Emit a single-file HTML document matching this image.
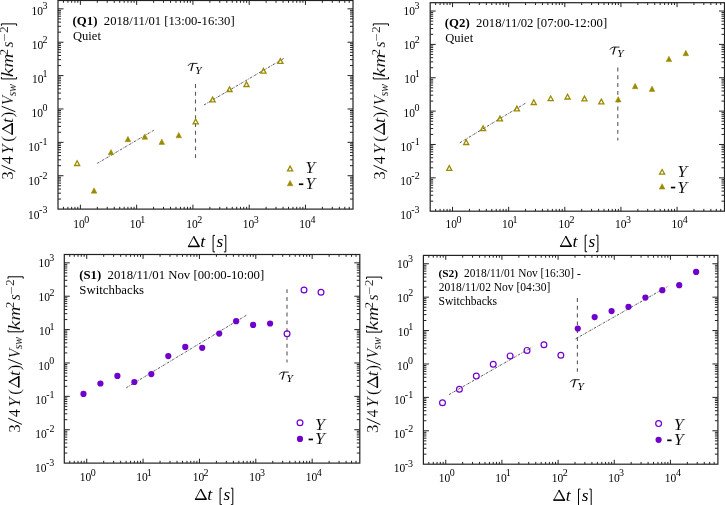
<!DOCTYPE html><html><head><meta charset="utf-8"><style>html,body{margin:0;padding:0;background:#fff;overflow:hidden}svg{display:block;filter:blur(0.3px)}</style></head><body>
<svg width="725" height="505" viewBox="0 0 725 505">
<rect width="725" height="505" fill="#fff"/>
<path d="M63.45 209.10v-2.3M63.45 0.50v2.3M67.91 209.10v-2.3M67.91 0.50v2.3M71.67 209.10v-2.3M71.67 0.50v2.3M74.94 209.10v-2.3M74.94 0.50v2.3M77.82 209.10v-2.3M77.82 0.50v2.3M80.39 209.10v-4.4M80.39 0.50v4.4M97.33 209.10v-2.3M97.33 0.50v2.3M107.24 209.10v-2.3M107.24 0.50v2.3M114.27 209.10v-2.3M114.27 0.50v2.3M119.72 209.10v-2.3M119.72 0.50v2.3M124.17 209.10v-2.3M124.17 0.50v2.3M127.94 209.10v-2.3M127.94 0.50v2.3M131.20 209.10v-2.3M131.20 0.50v2.3M134.08 209.10v-2.3M134.08 0.50v2.3M136.66 209.10v-4.4M136.66 0.50v4.4M153.59 209.10v-2.3M153.59 0.50v2.3M163.50 209.10v-2.3M163.50 0.50v2.3M170.53 209.10v-2.3M170.53 0.50v2.3M175.98 209.10v-2.3M175.98 0.50v2.3M180.44 209.10v-2.3M180.44 0.50v2.3M184.20 209.10v-2.3M184.20 0.50v2.3M187.47 209.10v-2.3M187.47 0.50v2.3M190.35 209.10v-2.3M190.35 0.50v2.3M192.92 209.10v-4.4M192.92 0.50v4.4M209.86 209.10v-2.3M209.86 0.50v2.3M219.77 209.10v-2.3M219.77 0.50v2.3M226.80 209.10v-2.3M226.80 0.50v2.3M232.25 209.10v-2.3M232.25 0.50v2.3M236.70 209.10v-2.3M236.70 0.50v2.3M240.47 209.10v-2.3M240.47 0.50v2.3M243.73 209.10v-2.3M243.73 0.50v2.3M246.61 209.10v-2.3M246.61 0.50v2.3M249.19 209.10v-4.4M249.19 0.50v4.4M266.12 209.10v-2.3M266.12 0.50v2.3M276.03 209.10v-2.3M276.03 0.50v2.3M283.06 209.10v-2.3M283.06 0.50v2.3M288.51 209.10v-2.3M288.51 0.50v2.3M292.97 209.10v-2.3M292.97 0.50v2.3M296.73 209.10v-2.3M296.73 0.50v2.3M300.00 209.10v-2.3M300.00 0.50v2.3M302.88 209.10v-2.3M302.88 0.50v2.3M305.45 209.10v-4.4M305.45 0.50v4.4M322.39 209.10v-2.3M322.39 0.50v2.3M332.30 209.10v-2.3M332.30 0.50v2.3M339.33 209.10v-2.3M339.33 0.50v2.3M344.78 209.10v-2.3M344.78 0.50v2.3M349.23 209.10v-2.3M349.23 0.50v2.3M58.00 199.05h3.0M353.00 199.05h-3.0M58.00 193.18h3.0M353.00 193.18h-3.0M58.00 189.01h3.0M353.00 189.01h-3.0M58.00 185.77h3.0M353.00 185.77h-3.0M58.00 183.13h3.0M353.00 183.13h-3.0M58.00 180.89h3.0M353.00 180.89h-3.0M58.00 178.96h3.0M353.00 178.96h-3.0M58.00 177.25h3.0M353.00 177.25h-3.0M58.00 175.72h5.5M353.00 175.72h-5.5M58.00 165.68h3.0M353.00 165.68h-3.0M58.00 159.80h3.0M353.00 159.80h-3.0M58.00 155.63h3.0M353.00 155.63h-3.0M58.00 152.40h3.0M353.00 152.40h-3.0M58.00 149.75h3.0M353.00 149.75h-3.0M58.00 147.52h3.0M353.00 147.52h-3.0M58.00 145.58h3.0M353.00 145.58h-3.0M58.00 143.88h3.0M353.00 143.88h-3.0M58.00 142.35h5.5M353.00 142.35h-5.5M58.00 132.30h3.0M353.00 132.30h-3.0M58.00 126.42h3.0M353.00 126.42h-3.0M58.00 122.25h3.0M353.00 122.25h-3.0M58.00 119.02h3.0M353.00 119.02h-3.0M58.00 116.38h3.0M353.00 116.38h-3.0M58.00 114.14h3.0M353.00 114.14h-3.0M58.00 112.21h3.0M353.00 112.21h-3.0M58.00 110.50h3.0M353.00 110.50h-3.0M58.00 108.97h5.5M353.00 108.97h-5.5M58.00 98.92h3.0M353.00 98.92h-3.0M58.00 93.05h3.0M353.00 93.05h-3.0M58.00 88.88h3.0M353.00 88.88h-3.0M58.00 85.64h3.0M353.00 85.64h-3.0M58.00 83.00h3.0M353.00 83.00h-3.0M58.00 80.77h3.0M353.00 80.77h-3.0M58.00 78.83h3.0M353.00 78.83h-3.0M58.00 77.12h3.0M353.00 77.12h-3.0M58.00 75.60h5.5M353.00 75.60h-5.5M58.00 65.55h3.0M353.00 65.55h-3.0M58.00 59.67h3.0M353.00 59.67h-3.0M58.00 55.50h3.0M353.00 55.50h-3.0M58.00 52.27h3.0M353.00 52.27h-3.0M58.00 49.62h3.0M353.00 49.62h-3.0M58.00 47.39h3.0M353.00 47.39h-3.0M58.00 45.45h3.0M353.00 45.45h-3.0M58.00 43.75h3.0M353.00 43.75h-3.0M58.00 42.22h5.5M353.00 42.22h-5.5M58.00 32.17h3.0M353.00 32.17h-3.0M58.00 26.30h3.0M353.00 26.30h-3.0M58.00 22.13h3.0M353.00 22.13h-3.0M58.00 18.89h3.0M353.00 18.89h-3.0M58.00 16.25h3.0M353.00 16.25h-3.0M58.00 14.01h3.0M353.00 14.01h-3.0M58.00 12.08h3.0M353.00 12.08h-3.0M58.00 10.37h3.0M353.00 10.37h-3.0M58.00 8.84h5.5M353.00 8.84h-5.5" stroke="#222" stroke-width="1" fill="none"/>
<rect x="58.00" y="0.50" width="295.00" height="208.60" stroke="#222" stroke-width="1.2" fill="none"/>
<text x="73.35" y="228.00" font-family='"Liberation Serif", serif' font-size="11.5" fill="#000">10</text>
<text x="84.33" y="222.80" font-family='"Liberation Serif", serif' font-size="10.0" fill="#000">0</text>
<text x="129.85" y="228.00" font-family='"Liberation Serif", serif' font-size="11.5" fill="#000">10</text>
<text x="140.34" y="222.80" font-family='"Liberation Serif", serif' font-size="10.0" fill="#000">1</text>
<text x="186.35" y="228.00" font-family='"Liberation Serif", serif' font-size="11.5" fill="#000">10</text>
<text x="197.28" y="222.80" font-family='"Liberation Serif", serif' font-size="10.0" fill="#000">2</text>
<text x="242.85" y="228.00" font-family='"Liberation Serif", serif' font-size="11.5" fill="#000">10</text>
<text x="253.74" y="222.80" font-family='"Liberation Serif", serif' font-size="10.0" fill="#000">3</text>
<text x="299.35" y="228.00" font-family='"Liberation Serif", serif' font-size="11.5" fill="#000">10</text>
<text x="310.52" y="222.80" font-family='"Liberation Serif", serif' font-size="10.0" fill="#000">4</text>
<text x="28.07" y="218.90" font-family='"Liberation Serif", serif' font-size="11.5" fill="#000">10</text>
<text x="39.06" y="213.10" font-family='"Liberation Serif", serif' font-size="10.0" fill="#000">-3</text>
<text x="28.23" y="184.90" font-family='"Liberation Serif", serif' font-size="11.5" fill="#000">10</text>
<text x="39.22" y="179.10" font-family='"Liberation Serif", serif' font-size="10.0" fill="#000">-2</text>
<text x="28.28" y="150.90" font-family='"Liberation Serif", serif' font-size="11.5" fill="#000">10</text>
<text x="39.27" y="145.10" font-family='"Liberation Serif", serif' font-size="10.0" fill="#000">-1</text>
<text x="31.40" y="116.90" font-family='"Liberation Serif", serif' font-size="11.5" fill="#000">10</text>
<text x="42.38" y="111.10" font-family='"Liberation Serif", serif' font-size="10.0" fill="#000">0</text>
<text x="32.12" y="82.90" font-family='"Liberation Serif", serif' font-size="11.5" fill="#000">10</text>
<text x="42.60" y="77.10" font-family='"Liberation Serif", serif' font-size="10.0" fill="#000">1</text>
<text x="31.63" y="48.90" font-family='"Liberation Serif", serif' font-size="11.5" fill="#000">10</text>
<text x="42.55" y="43.10" font-family='"Liberation Serif", serif' font-size="10.0" fill="#000">2</text>
<text x="31.51" y="14.90" font-family='"Liberation Serif", serif' font-size="11.5" fill="#000">10</text>
<text x="42.39" y="9.10" font-family='"Liberation Serif", serif' font-size="10.0" fill="#000">3</text>
<path d="M435.64 211.20v-2.3M435.64 2.70v2.3M440.08 211.20v-2.3M440.08 2.70v2.3M443.84 211.20v-2.3M443.84 2.70v2.3M447.10 211.20v-2.3M447.10 2.70v2.3M449.97 211.20v-2.3M449.97 2.70v2.3M452.54 211.20v-4.4M452.54 2.70v4.4M469.43 211.20v-2.3M469.43 2.70v2.3M479.32 211.20v-2.3M479.32 2.70v2.3M486.33 211.20v-2.3M486.33 2.70v2.3M491.77 211.20v-2.3M491.77 2.70v2.3M496.22 211.20v-2.3M496.22 2.70v2.3M499.97 211.20v-2.3M499.97 2.70v2.3M503.23 211.20v-2.3M503.23 2.70v2.3M506.10 211.20v-2.3M506.10 2.70v2.3M508.67 211.20v-4.4M508.67 2.70v4.4M525.57 211.20v-2.3M525.57 2.70v2.3M535.45 211.20v-2.3M535.45 2.70v2.3M542.46 211.20v-2.3M542.46 2.70v2.3M547.90 211.20v-2.3M547.90 2.70v2.3M552.35 211.20v-2.3M552.35 2.70v2.3M556.11 211.20v-2.3M556.11 2.70v2.3M559.36 211.20v-2.3M559.36 2.70v2.3M562.23 211.20v-2.3M562.23 2.70v2.3M564.80 211.20v-4.4M564.80 2.70v4.4M581.70 211.20v-2.3M581.70 2.70v2.3M591.58 211.20v-2.3M591.58 2.70v2.3M598.59 211.20v-2.3M598.59 2.70v2.3M604.03 211.20v-2.3M604.03 2.70v2.3M608.48 211.20v-2.3M608.48 2.70v2.3M612.24 211.20v-2.3M612.24 2.70v2.3M615.49 211.20v-2.3M615.49 2.70v2.3M618.36 211.20v-2.3M618.36 2.70v2.3M620.93 211.20v-4.4M620.93 2.70v4.4M637.83 211.20v-2.3M637.83 2.70v2.3M647.71 211.20v-2.3M647.71 2.70v2.3M654.73 211.20v-2.3M654.73 2.70v2.3M660.17 211.20v-2.3M660.17 2.70v2.3M664.61 211.20v-2.3M664.61 2.70v2.3M668.37 211.20v-2.3M668.37 2.70v2.3M671.62 211.20v-2.3M671.62 2.70v2.3M674.49 211.20v-2.3M674.49 2.70v2.3M677.06 211.20v-4.4M677.06 2.70v4.4M693.96 211.20v-2.3M693.96 2.70v2.3M703.84 211.20v-2.3M703.84 2.70v2.3M710.86 211.20v-2.3M710.86 2.70v2.3M716.30 211.20v-2.3M716.30 2.70v2.3M720.74 211.20v-2.3M720.74 2.70v2.3M430.20 201.16h3.0M724.50 201.16h-3.0M430.20 195.28h3.0M724.50 195.28h-3.0M430.20 191.12h3.0M724.50 191.12h-3.0M430.20 187.88h3.0M724.50 187.88h-3.0M430.20 185.24h3.0M724.50 185.24h-3.0M430.20 183.01h3.0M724.50 183.01h-3.0M430.20 181.07h3.0M724.50 181.07h-3.0M430.20 179.37h3.0M724.50 179.37h-3.0M430.20 177.84h5.5M724.50 177.84h-5.5M430.20 167.80h3.0M724.50 167.80h-3.0M430.20 161.92h3.0M724.50 161.92h-3.0M430.20 157.76h3.0M724.50 157.76h-3.0M430.20 154.52h3.0M724.50 154.52h-3.0M430.20 151.88h3.0M724.50 151.88h-3.0M430.20 149.65h3.0M724.50 149.65h-3.0M430.20 147.71h3.0M724.50 147.71h-3.0M430.20 146.01h3.0M724.50 146.01h-3.0M430.20 144.48h5.5M724.50 144.48h-5.5M430.20 134.44h3.0M724.50 134.44h-3.0M430.20 128.56h3.0M724.50 128.56h-3.0M430.20 124.40h3.0M724.50 124.40h-3.0M430.20 121.16h3.0M724.50 121.16h-3.0M430.20 118.52h3.0M724.50 118.52h-3.0M430.20 116.29h3.0M724.50 116.29h-3.0M430.20 114.35h3.0M724.50 114.35h-3.0M430.20 112.65h3.0M724.50 112.65h-3.0M430.20 111.12h5.5M724.50 111.12h-5.5M430.20 101.08h3.0M724.50 101.08h-3.0M430.20 95.20h3.0M724.50 95.20h-3.0M430.20 91.04h3.0M724.50 91.04h-3.0M430.20 87.80h3.0M724.50 87.80h-3.0M430.20 85.16h3.0M724.50 85.16h-3.0M430.20 82.93h3.0M724.50 82.93h-3.0M430.20 80.99h3.0M724.50 80.99h-3.0M430.20 79.29h3.0M724.50 79.29h-3.0M430.20 77.76h5.5M724.50 77.76h-5.5M430.20 67.72h3.0M724.50 67.72h-3.0M430.20 61.84h3.0M724.50 61.84h-3.0M430.20 57.68h3.0M724.50 57.68h-3.0M430.20 54.44h3.0M724.50 54.44h-3.0M430.20 51.80h3.0M724.50 51.80h-3.0M430.20 49.57h3.0M724.50 49.57h-3.0M430.20 47.63h3.0M724.50 47.63h-3.0M430.20 45.93h3.0M724.50 45.93h-3.0M430.20 44.40h5.5M724.50 44.40h-5.5M430.20 34.36h3.0M724.50 34.36h-3.0M430.20 28.48h3.0M724.50 28.48h-3.0M430.20 24.32h3.0M724.50 24.32h-3.0M430.20 21.08h3.0M724.50 21.08h-3.0M430.20 18.44h3.0M724.50 18.44h-3.0M430.20 16.21h3.0M724.50 16.21h-3.0M430.20 14.27h3.0M724.50 14.27h-3.0M430.20 12.57h3.0M724.50 12.57h-3.0M430.20 11.04h5.5M724.50 11.04h-5.5" stroke="#222" stroke-width="1" fill="none"/>
<rect x="430.20" y="2.70" width="294.30" height="208.50" stroke="#222" stroke-width="1.2" fill="none"/>
<text x="445.50" y="228.00" font-family='"Liberation Serif", serif' font-size="11.5" fill="#000">10</text>
<text x="456.48" y="222.80" font-family='"Liberation Serif", serif' font-size="10.0" fill="#000">0</text>
<text x="502.00" y="228.00" font-family='"Liberation Serif", serif' font-size="11.5" fill="#000">10</text>
<text x="512.48" y="222.80" font-family='"Liberation Serif", serif' font-size="10.0" fill="#000">1</text>
<text x="558.50" y="228.00" font-family='"Liberation Serif", serif' font-size="11.5" fill="#000">10</text>
<text x="569.42" y="222.80" font-family='"Liberation Serif", serif' font-size="10.0" fill="#000">2</text>
<text x="615.00" y="228.00" font-family='"Liberation Serif", serif' font-size="11.5" fill="#000">10</text>
<text x="625.88" y="222.80" font-family='"Liberation Serif", serif' font-size="10.0" fill="#000">3</text>
<text x="671.50" y="228.00" font-family='"Liberation Serif", serif' font-size="11.5" fill="#000">10</text>
<text x="682.67" y="222.80" font-family='"Liberation Serif", serif' font-size="10.0" fill="#000">4</text>
<text x="400.17" y="218.90" font-family='"Liberation Serif", serif' font-size="11.5" fill="#000">10</text>
<text x="411.16" y="213.10" font-family='"Liberation Serif", serif' font-size="10.0" fill="#000">-3</text>
<text x="400.33" y="184.90" font-family='"Liberation Serif", serif' font-size="11.5" fill="#000">10</text>
<text x="411.32" y="179.10" font-family='"Liberation Serif", serif' font-size="10.0" fill="#000">-2</text>
<text x="400.38" y="150.90" font-family='"Liberation Serif", serif' font-size="11.5" fill="#000">10</text>
<text x="411.37" y="145.10" font-family='"Liberation Serif", serif' font-size="10.0" fill="#000">-1</text>
<text x="403.50" y="116.90" font-family='"Liberation Serif", serif' font-size="11.5" fill="#000">10</text>
<text x="414.48" y="111.10" font-family='"Liberation Serif", serif' font-size="10.0" fill="#000">0</text>
<text x="404.22" y="82.90" font-family='"Liberation Serif", serif' font-size="11.5" fill="#000">10</text>
<text x="414.70" y="77.10" font-family='"Liberation Serif", serif' font-size="10.0" fill="#000">1</text>
<text x="403.73" y="48.90" font-family='"Liberation Serif", serif' font-size="11.5" fill="#000">10</text>
<text x="414.65" y="43.10" font-family='"Liberation Serif", serif' font-size="10.0" fill="#000">2</text>
<text x="403.61" y="14.90" font-family='"Liberation Serif", serif' font-size="11.5" fill="#000">10</text>
<text x="414.49" y="9.10" font-family='"Liberation Serif", serif' font-size="10.0" fill="#000">3</text>
<path d="M69.76 463.10v-2.3M69.76 254.50v2.3M74.22 463.10v-2.3M74.22 254.50v2.3M78.00 463.10v-2.3M78.00 254.50v2.3M81.27 463.10v-2.3M81.27 254.50v2.3M84.15 463.10v-2.3M84.15 254.50v2.3M86.73 463.10v-4.4M86.73 254.50v4.4M103.69 463.10v-2.3M103.69 254.50v2.3M113.62 463.10v-2.3M113.62 254.50v2.3M120.66 463.10v-2.3M120.66 254.50v2.3M126.12 463.10v-2.3M126.12 254.50v2.3M130.59 463.10v-2.3M130.59 254.50v2.3M134.36 463.10v-2.3M134.36 254.50v2.3M137.63 463.10v-2.3M137.63 254.50v2.3M140.51 463.10v-2.3M140.51 254.50v2.3M143.09 463.10v-4.4M143.09 254.50v4.4M160.05 463.10v-2.3M160.05 254.50v2.3M169.98 463.10v-2.3M169.98 254.50v2.3M177.02 463.10v-2.3M177.02 254.50v2.3M182.48 463.10v-2.3M182.48 254.50v2.3M186.95 463.10v-2.3M186.95 254.50v2.3M190.72 463.10v-2.3M190.72 254.50v2.3M193.99 463.10v-2.3M193.99 254.50v2.3M196.87 463.10v-2.3M196.87 254.50v2.3M199.45 463.10v-4.4M199.45 254.50v4.4M216.42 463.10v-2.3M216.42 254.50v2.3M226.34 463.10v-2.3M226.34 254.50v2.3M233.38 463.10v-2.3M233.38 254.50v2.3M238.84 463.10v-2.3M238.84 254.50v2.3M243.31 463.10v-2.3M243.31 254.50v2.3M247.08 463.10v-2.3M247.08 254.50v2.3M250.35 463.10v-2.3M250.35 254.50v2.3M253.23 463.10v-2.3M253.23 254.50v2.3M255.81 463.10v-4.4M255.81 254.50v4.4M272.78 463.10v-2.3M272.78 254.50v2.3M282.70 463.10v-2.3M282.70 254.50v2.3M289.74 463.10v-2.3M289.74 254.50v2.3M295.20 463.10v-2.3M295.20 254.50v2.3M299.67 463.10v-2.3M299.67 254.50v2.3M303.44 463.10v-2.3M303.44 254.50v2.3M306.71 463.10v-2.3M306.71 254.50v2.3M309.59 463.10v-2.3M309.59 254.50v2.3M312.17 463.10v-4.4M312.17 254.50v4.4M329.14 463.10v-2.3M329.14 254.50v2.3M339.06 463.10v-2.3M339.06 254.50v2.3M346.10 463.10v-2.3M346.10 254.50v2.3M351.56 463.10v-2.3M351.56 254.50v2.3M356.03 463.10v-2.3M356.03 254.50v2.3M64.30 453.05h3.0M359.80 453.05h-3.0M64.30 447.18h3.0M359.80 447.18h-3.0M64.30 443.01h3.0M359.80 443.01h-3.0M64.30 439.77h3.0M359.80 439.77h-3.0M64.30 437.13h3.0M359.80 437.13h-3.0M64.30 434.89h3.0M359.80 434.89h-3.0M64.30 432.96h3.0M359.80 432.96h-3.0M64.30 431.25h3.0M359.80 431.25h-3.0M64.30 429.72h5.5M359.80 429.72h-5.5M64.30 419.68h3.0M359.80 419.68h-3.0M64.30 413.80h3.0M359.80 413.80h-3.0M64.30 409.63h3.0M359.80 409.63h-3.0M64.30 406.40h3.0M359.80 406.40h-3.0M64.30 403.75h3.0M359.80 403.75h-3.0M64.30 401.52h3.0M359.80 401.52h-3.0M64.30 399.58h3.0M359.80 399.58h-3.0M64.30 397.88h3.0M359.80 397.88h-3.0M64.30 396.35h5.5M359.80 396.35h-5.5M64.30 386.30h3.0M359.80 386.30h-3.0M64.30 380.42h3.0M359.80 380.42h-3.0M64.30 376.25h3.0M359.80 376.25h-3.0M64.30 373.02h3.0M359.80 373.02h-3.0M64.30 370.38h3.0M359.80 370.38h-3.0M64.30 368.14h3.0M359.80 368.14h-3.0M64.30 366.21h3.0M359.80 366.21h-3.0M64.30 364.50h3.0M359.80 364.50h-3.0M64.30 362.97h5.5M359.80 362.97h-5.5M64.30 352.92h3.0M359.80 352.92h-3.0M64.30 347.05h3.0M359.80 347.05h-3.0M64.30 342.88h3.0M359.80 342.88h-3.0M64.30 339.64h3.0M359.80 339.64h-3.0M64.30 337.00h3.0M359.80 337.00h-3.0M64.30 334.77h3.0M359.80 334.77h-3.0M64.30 332.83h3.0M359.80 332.83h-3.0M64.30 331.12h3.0M359.80 331.12h-3.0M64.30 329.60h5.5M359.80 329.60h-5.5M64.30 319.55h3.0M359.80 319.55h-3.0M64.30 313.67h3.0M359.80 313.67h-3.0M64.30 309.50h3.0M359.80 309.50h-3.0M64.30 306.27h3.0M359.80 306.27h-3.0M64.30 303.62h3.0M359.80 303.62h-3.0M64.30 301.39h3.0M359.80 301.39h-3.0M64.30 299.45h3.0M359.80 299.45h-3.0M64.30 297.75h3.0M359.80 297.75h-3.0M64.30 296.22h5.5M359.80 296.22h-5.5M64.30 286.17h3.0M359.80 286.17h-3.0M64.30 280.30h3.0M359.80 280.30h-3.0M64.30 276.13h3.0M359.80 276.13h-3.0M64.30 272.89h3.0M359.80 272.89h-3.0M64.30 270.25h3.0M359.80 270.25h-3.0M64.30 268.01h3.0M359.80 268.01h-3.0M64.30 266.08h3.0M359.80 266.08h-3.0M64.30 264.37h3.0M359.80 264.37h-3.0M64.30 262.84h5.5M359.80 262.84h-5.5" stroke="#222" stroke-width="1" fill="none"/>
<rect x="64.30" y="254.50" width="295.50" height="208.60" stroke="#222" stroke-width="1.2" fill="none"/>
<text x="79.69" y="481.00" font-family='"Liberation Serif", serif' font-size="11.5" fill="#000">10</text>
<text x="90.67" y="475.80" font-family='"Liberation Serif", serif' font-size="10.0" fill="#000">0</text>
<text x="136.19" y="481.00" font-family='"Liberation Serif", serif' font-size="11.5" fill="#000">10</text>
<text x="146.67" y="475.80" font-family='"Liberation Serif", serif' font-size="10.0" fill="#000">1</text>
<text x="192.69" y="481.00" font-family='"Liberation Serif", serif' font-size="11.5" fill="#000">10</text>
<text x="203.61" y="475.80" font-family='"Liberation Serif", serif' font-size="10.0" fill="#000">2</text>
<text x="249.19" y="481.00" font-family='"Liberation Serif", serif' font-size="11.5" fill="#000">10</text>
<text x="260.08" y="475.80" font-family='"Liberation Serif", serif' font-size="10.0" fill="#000">3</text>
<text x="305.69" y="481.00" font-family='"Liberation Serif", serif' font-size="11.5" fill="#000">10</text>
<text x="316.86" y="475.80" font-family='"Liberation Serif", serif' font-size="10.0" fill="#000">4</text>
<text x="34.97" y="471.80" font-family='"Liberation Serif", serif' font-size="11.5" fill="#000">10</text>
<text x="45.96" y="466.00" font-family='"Liberation Serif", serif' font-size="10.0" fill="#000">-3</text>
<text x="35.13" y="437.70" font-family='"Liberation Serif", serif' font-size="11.5" fill="#000">10</text>
<text x="46.12" y="431.90" font-family='"Liberation Serif", serif' font-size="10.0" fill="#000">-2</text>
<text x="35.18" y="403.60" font-family='"Liberation Serif", serif' font-size="11.5" fill="#000">10</text>
<text x="46.17" y="397.80" font-family='"Liberation Serif", serif' font-size="10.0" fill="#000">-1</text>
<text x="38.30" y="369.50" font-family='"Liberation Serif", serif' font-size="11.5" fill="#000">10</text>
<text x="49.28" y="363.70" font-family='"Liberation Serif", serif' font-size="10.0" fill="#000">0</text>
<text x="39.02" y="335.40" font-family='"Liberation Serif", serif' font-size="11.5" fill="#000">10</text>
<text x="49.50" y="329.60" font-family='"Liberation Serif", serif' font-size="10.0" fill="#000">1</text>
<text x="38.53" y="301.30" font-family='"Liberation Serif", serif' font-size="11.5" fill="#000">10</text>
<text x="49.45" y="295.50" font-family='"Liberation Serif", serif' font-size="10.0" fill="#000">2</text>
<text x="38.41" y="267.20" font-family='"Liberation Serif", serif' font-size="11.5" fill="#000">10</text>
<text x="49.29" y="261.40" font-family='"Liberation Serif", serif' font-size="10.0" fill="#000">3</text>
<path d="M428.84 464.20v-2.3M428.84 255.40v2.3M433.29 464.20v-2.3M433.29 255.40v2.3M437.05 464.20v-2.3M437.05 255.40v2.3M440.31 464.20v-2.3M440.31 255.40v2.3M443.18 464.20v-2.3M443.18 255.40v2.3M445.75 464.20v-4.4M445.75 255.40v4.4M462.66 464.20v-2.3M462.66 255.40v2.3M472.55 464.20v-2.3M472.55 255.40v2.3M479.57 464.20v-2.3M479.57 255.40v2.3M485.01 464.20v-2.3M485.01 255.40v2.3M489.46 464.20v-2.3M489.46 255.40v2.3M493.22 464.20v-2.3M493.22 255.40v2.3M496.48 464.20v-2.3M496.48 255.40v2.3M499.35 464.20v-2.3M499.35 255.40v2.3M501.92 464.20v-4.4M501.92 255.40v4.4M518.83 464.20v-2.3M518.83 255.40v2.3M528.72 464.20v-2.3M528.72 255.40v2.3M535.74 464.20v-2.3M535.74 255.40v2.3M541.18 464.20v-2.3M541.18 255.40v2.3M545.63 464.20v-2.3M545.63 255.40v2.3M549.39 464.20v-2.3M549.39 255.40v2.3M552.65 464.20v-2.3M552.65 255.40v2.3M555.52 464.20v-2.3M555.52 255.40v2.3M558.09 464.20v-4.4M558.09 255.40v4.4M575.00 464.20v-2.3M575.00 255.40v2.3M584.89 464.20v-2.3M584.89 255.40v2.3M591.91 464.20v-2.3M591.91 255.40v2.3M597.35 464.20v-2.3M597.35 255.40v2.3M601.80 464.20v-2.3M601.80 255.40v2.3M605.56 464.20v-2.3M605.56 255.40v2.3M608.82 464.20v-2.3M608.82 255.40v2.3M611.69 464.20v-2.3M611.69 255.40v2.3M614.26 464.20v-4.4M614.26 255.40v4.4M631.17 464.20v-2.3M631.17 255.40v2.3M641.06 464.20v-2.3M641.06 255.40v2.3M648.08 464.20v-2.3M648.08 255.40v2.3M653.52 464.20v-2.3M653.52 255.40v2.3M657.97 464.20v-2.3M657.97 255.40v2.3M661.73 464.20v-2.3M661.73 255.40v2.3M664.99 464.20v-2.3M664.99 255.40v2.3M667.86 464.20v-2.3M667.86 255.40v2.3M670.43 464.20v-4.4M670.43 255.40v4.4M687.34 464.20v-2.3M687.34 255.40v2.3M697.23 464.20v-2.3M697.23 255.40v2.3M704.25 464.20v-2.3M704.25 255.40v2.3M709.69 464.20v-2.3M709.69 255.40v2.3M714.14 464.20v-2.3M714.14 255.40v2.3M423.40 454.14h3.0M717.90 454.14h-3.0M423.40 448.26h3.0M717.90 448.26h-3.0M423.40 444.09h3.0M717.90 444.09h-3.0M423.40 440.85h3.0M717.90 440.85h-3.0M423.40 438.20h3.0M717.90 438.20h-3.0M423.40 435.97h3.0M717.90 435.97h-3.0M423.40 434.03h3.0M717.90 434.03h-3.0M423.40 432.32h3.0M717.90 432.32h-3.0M423.40 430.79h5.5M717.90 430.79h-5.5M423.40 420.74h3.0M717.90 420.74h-3.0M423.40 414.85h3.0M717.90 414.85h-3.0M423.40 410.68h3.0M717.90 410.68h-3.0M423.40 407.44h3.0M717.90 407.44h-3.0M423.40 404.80h3.0M717.90 404.80h-3.0M423.40 402.56h3.0M717.90 402.56h-3.0M423.40 400.62h3.0M717.90 400.62h-3.0M423.40 398.91h3.0M717.90 398.91h-3.0M423.40 397.38h5.5M717.90 397.38h-5.5M423.40 387.33h3.0M717.90 387.33h-3.0M423.40 381.44h3.0M717.90 381.44h-3.0M423.40 377.27h3.0M717.90 377.27h-3.0M423.40 374.03h3.0M717.90 374.03h-3.0M423.40 371.39h3.0M717.90 371.39h-3.0M423.40 369.15h3.0M717.90 369.15h-3.0M423.40 367.21h3.0M717.90 367.21h-3.0M423.40 365.50h3.0M717.90 365.50h-3.0M423.40 363.98h5.5M717.90 363.98h-5.5M423.40 353.92h3.0M717.90 353.92h-3.0M423.40 348.04h3.0M717.90 348.04h-3.0M423.40 343.86h3.0M717.90 343.86h-3.0M423.40 340.62h3.0M717.90 340.62h-3.0M423.40 337.98h3.0M717.90 337.98h-3.0M423.40 335.74h3.0M717.90 335.74h-3.0M423.40 333.81h3.0M717.90 333.81h-3.0M423.40 332.10h3.0M717.90 332.10h-3.0M423.40 330.57h5.5M717.90 330.57h-5.5M423.40 320.51h3.0M717.90 320.51h-3.0M423.40 314.63h3.0M717.90 314.63h-3.0M423.40 310.45h3.0M717.90 310.45h-3.0M423.40 307.22h3.0M717.90 307.22h-3.0M423.40 304.57h3.0M717.90 304.57h-3.0M423.40 302.33h3.0M717.90 302.33h-3.0M423.40 300.40h3.0M717.90 300.40h-3.0M423.40 298.69h3.0M717.90 298.69h-3.0M423.40 297.16h5.5M717.90 297.16h-5.5M423.40 287.10h3.0M717.90 287.10h-3.0M423.40 281.22h3.0M717.90 281.22h-3.0M423.40 277.05h3.0M717.90 277.05h-3.0M423.40 273.81h3.0M717.90 273.81h-3.0M423.40 271.16h3.0M717.90 271.16h-3.0M423.40 268.93h3.0M717.90 268.93h-3.0M423.40 266.99h3.0M717.90 266.99h-3.0M423.40 265.28h3.0M717.90 265.28h-3.0M423.40 263.75h5.5M717.90 263.75h-5.5" stroke="#222" stroke-width="1" fill="none"/>
<rect x="423.40" y="255.40" width="294.50" height="208.80" stroke="#222" stroke-width="1.2" fill="none"/>
<text x="438.72" y="481.50" font-family='"Liberation Serif", serif' font-size="11.5" fill="#000">10</text>
<text x="449.70" y="476.30" font-family='"Liberation Serif", serif' font-size="10.0" fill="#000">0</text>
<text x="495.22" y="481.50" font-family='"Liberation Serif", serif' font-size="11.5" fill="#000">10</text>
<text x="505.70" y="476.30" font-family='"Liberation Serif", serif' font-size="10.0" fill="#000">1</text>
<text x="551.72" y="481.50" font-family='"Liberation Serif", serif' font-size="11.5" fill="#000">10</text>
<text x="562.64" y="476.30" font-family='"Liberation Serif", serif' font-size="10.0" fill="#000">2</text>
<text x="608.22" y="481.50" font-family='"Liberation Serif", serif' font-size="11.5" fill="#000">10</text>
<text x="619.10" y="476.30" font-family='"Liberation Serif", serif' font-size="10.0" fill="#000">3</text>
<text x="664.72" y="481.50" font-family='"Liberation Serif", serif' font-size="11.5" fill="#000">10</text>
<text x="675.88" y="476.30" font-family='"Liberation Serif", serif' font-size="10.0" fill="#000">4</text>
<text x="393.67" y="472.32" font-family='"Liberation Serif", serif' font-size="11.5" fill="#000">10</text>
<text x="404.66" y="466.52" font-family='"Liberation Serif", serif' font-size="10.0" fill="#000">-3</text>
<text x="393.83" y="438.25" font-family='"Liberation Serif", serif' font-size="11.5" fill="#000">10</text>
<text x="404.82" y="432.45" font-family='"Liberation Serif", serif' font-size="10.0" fill="#000">-2</text>
<text x="393.88" y="404.18" font-family='"Liberation Serif", serif' font-size="11.5" fill="#000">10</text>
<text x="404.87" y="398.38" font-family='"Liberation Serif", serif' font-size="10.0" fill="#000">-1</text>
<text x="397.00" y="370.11" font-family='"Liberation Serif", serif' font-size="11.5" fill="#000">10</text>
<text x="407.98" y="364.31" font-family='"Liberation Serif", serif' font-size="10.0" fill="#000">0</text>
<text x="397.72" y="336.04" font-family='"Liberation Serif", serif' font-size="11.5" fill="#000">10</text>
<text x="408.20" y="330.24" font-family='"Liberation Serif", serif' font-size="10.0" fill="#000">1</text>
<text x="397.23" y="301.97" font-family='"Liberation Serif", serif' font-size="11.5" fill="#000">10</text>
<text x="408.15" y="296.17" font-family='"Liberation Serif", serif' font-size="10.0" fill="#000">2</text>
<text x="397.11" y="267.90" font-family='"Liberation Serif", serif' font-size="11.5" fill="#000">10</text>
<text x="407.99" y="262.10" font-family='"Liberation Serif", serif' font-size="10.0" fill="#000">3</text>
<line x1="97.2" y1="163.4" x2="153.7" y2="130.3" stroke="#3a3a3a" stroke-width="0.85" stroke-dasharray="2.4 1.1 0.7 1.1"/>
<line x1="204" y1="105" x2="283.7" y2="58.5" stroke="#3a3a3a" stroke-width="0.85" stroke-dasharray="2.4 1.1 0.7 1.1"/>
<line x1="195.5" y1="84" x2="195.5" y2="158" stroke="#5a5a5a" stroke-width="1.1" stroke-dasharray="3.9 3.9"/>
<path d="M77.13 159.45L80.78 166.15L73.48 166.15Z M77.13 162.17L75.67 164.85L78.59 164.85Z" fill="#9a8a00" fill-rule="evenodd"/>
<polygon points="94.06,187.80 96.86,193.20 91.26,193.20" fill="#9a8a00" stroke="#9a8a00" stroke-width="0.5" stroke-linejoin="round"/>
<polygon points="111.00,149.40 113.80,154.80 108.20,154.80" fill="#9a8a00" stroke="#9a8a00" stroke-width="0.5" stroke-linejoin="round"/>
<polygon points="127.94,136.30 130.74,141.70 125.14,141.70" fill="#9a8a00" stroke="#9a8a00" stroke-width="0.5" stroke-linejoin="round"/>
<polygon points="144.88,133.90 147.68,139.30 142.08,139.30" fill="#9a8a00" stroke="#9a8a00" stroke-width="0.5" stroke-linejoin="round"/>
<polygon points="161.81,139.00 164.61,144.40 159.01,144.40" fill="#9a8a00" stroke="#9a8a00" stroke-width="0.5" stroke-linejoin="round"/>
<polygon points="178.75,132.40 181.55,137.80 175.95,137.80" fill="#9a8a00" stroke="#9a8a00" stroke-width="0.5" stroke-linejoin="round"/>
<path d="M195.69 117.75L199.34 124.45L192.04 124.45Z M195.69 120.47L194.23 123.15L197.15 123.15Z" fill="#9a8a00" fill-rule="evenodd"/>
<path d="M212.63 95.75L216.28 102.45L208.98 102.45Z M212.63 98.47L211.17 101.15L214.09 101.15Z" fill="#9a8a00" fill-rule="evenodd"/>
<path d="M229.56 85.45L233.21 92.15L225.91 92.15Z M229.56 88.17L228.10 90.85L231.03 90.85Z" fill="#9a8a00" fill-rule="evenodd"/>
<path d="M246.50 80.45L250.15 87.15L242.85 87.15Z M246.50 83.17L245.04 85.85L247.96 85.85Z" fill="#9a8a00" fill-rule="evenodd"/>
<path d="M263.44 67.05L267.09 73.75L259.79 73.75Z M263.44 69.77L261.98 72.45L264.90 72.45Z" fill="#9a8a00" fill-rule="evenodd"/>
<path d="M280.38 57.25L284.03 63.95L276.73 63.95Z M280.38 59.97L278.92 62.65L281.84 62.65Z" fill="#9a8a00" fill-rule="evenodd"/>
<path d="M188.10 65.60Q189.30 63.40 191.60 63.40L197.10 63.40" stroke="#111" stroke-width="0.9" fill="none" stroke-linecap="round"/>
<path d="M192.90 63.70L191.00 70.50" stroke="#111" stroke-width="1.25" fill="none" stroke-linecap="round"/>
<text x="195.35" y="73.50" font-family='"Liberation Serif", serif' font-style="italic" font-size="9.8" fill="#000" textLength="6.34" lengthAdjust="spacingAndGlyphs">Y</text>
<text x="72.54" y="24.90" font-family='"Liberation Serif", serif' font-weight="bold" font-size="12.8" fill="#000">(Q1)</text>
<text x="103.85" y="24.90" font-family='"Liberation Serif", serif' font-size="12.6" fill="#000" textLength="130.79" lengthAdjust="spacingAndGlyphs">2018/11/01 [13:00-16:30]</text>
<text x="72.99" y="40.20" font-family='"Liberation Serif", serif' font-size="12.6" fill="#000" textLength="27.89" lengthAdjust="spacingAndGlyphs">Quiet</text>
<path d="M290.10 164.85L293.75 171.55L286.45 171.55Z M290.10 167.57L288.64 170.25L291.56 170.25Z" fill="#9a8a00" fill-rule="evenodd"/>
<polygon points="290.10,180.40 292.90,185.80 287.30,185.80" fill="#9a8a00" stroke="#9a8a00" stroke-width="0.5" stroke-linejoin="round"/>
<text x="305.38" y="173.40" font-family='"Liberation Serif", serif' font-style="italic" font-size="16" fill="#000" textLength="9.93" lengthAdjust="spacingAndGlyphs" stroke="#fff" stroke-width="0.1">Y</text>
<text x="305.38" y="189.20" font-family='"Liberation Serif", serif' font-style="italic" font-size="16" fill="#000" textLength="9.93" lengthAdjust="spacingAndGlyphs" stroke="#fff" stroke-width="0.1">Y</text>
<rect x="298.90" y="183.40" width="4.4" height="1.7" fill="#000"/>
<path d="M193.85 236.30L188.30 246.70" stroke="#000" stroke-width="0.8" fill="none"/><path d="M193.55 236.30L199.10 246.60" stroke="#000" stroke-width="1.4" fill="none"/><path d="M188.00 246.40H199.70" stroke="#000" stroke-width="1.6" fill="none"/>
<text x="200.30" y="247.20" font-family='"Liberation Serif", serif' font-style="italic" font-size="16.4" fill="#000" textLength="5.03" lengthAdjust="spacingAndGlyphs">t</text>
<path d="M215.00 235.40H213.10V251.90H215.00" stroke="#000" stroke-width="1.0" fill="none"/>
<text x="216.49" y="247.20" font-family='"Liberation Serif", serif' font-style="italic" font-size="16.4" fill="#000" textLength="6.74" lengthAdjust="spacingAndGlyphs">s</text>
<path d="M223.90 235.40H225.80V251.90H223.90" stroke="#000" stroke-width="1.0" fill="none"/>
<g transform="translate(13.0,179.6) rotate(-90)">
<text x="-0.20" y="0.00" font-family='"Liberation Serif", serif' font-size="16.3" fill="#000" textLength="8.35" lengthAdjust="spacingAndGlyphs" stroke="#fff" stroke-width="0.1">3</text>
<text x="15.60" y="0.00" font-family='"Liberation Serif", serif' font-size="16.3" fill="#000" textLength="7.74" lengthAdjust="spacingAndGlyphs" stroke="#fff" stroke-width="0.1">4</text>
<text x="25.62" y="0.00" font-family='"Liberation Serif", serif' font-style="italic" font-size="16.3" fill="#000" textLength="9.55" lengthAdjust="spacingAndGlyphs" stroke="#fff" stroke-width="0.1">Y</text>
<text x="37.85" y="0.00" font-family='"Liberation Serif", serif' font-size="16.3" fill="#000" textLength="5.70" lengthAdjust="spacingAndGlyphs" stroke="#fff" stroke-width="0.1">(</text>
<text x="56.50" y="0.00" font-family='"Liberation Serif", serif' font-style="italic" font-size="16.3" fill="#000" textLength="5.03" lengthAdjust="spacingAndGlyphs" stroke="#fff" stroke-width="0.1">t</text>
<text x="62.37" y="0.00" font-family='"Liberation Serif", serif' font-size="16.3" fill="#000" textLength="5.45" lengthAdjust="spacingAndGlyphs" stroke="#fff" stroke-width="0.1">)</text>
<text x="74.52" y="0.00" font-family='"Liberation Serif", serif' font-style="italic" font-size="16.3" fill="#000" textLength="9.14" lengthAdjust="spacingAndGlyphs" stroke="#fff" stroke-width="0.1">V</text>
<text x="83.26" y="2.80" font-family='"Liberation Serif", serif' font-style="italic" font-size="11.5" fill="#000" textLength="12.43" lengthAdjust="spacingAndGlyphs" stroke="#fff" stroke-width="0.1">sw</text>
<text x="102.28" y="0.00" font-family='"Liberation Serif", serif' font-style="italic" font-size="16.3" fill="#000" textLength="9.61" lengthAdjust="spacingAndGlyphs" stroke="#fff" stroke-width="0.1">k</text>
<text x="112.11" y="0.00" font-family='"Liberation Serif", serif' font-style="italic" font-size="16.3" fill="#000" textLength="13.79" lengthAdjust="spacingAndGlyphs" stroke="#fff" stroke-width="0.1">m</text>
<text x="124.22" y="-5.40" font-family='"Liberation Serif", serif' font-size="11.5" fill="#000" textLength="6.61" lengthAdjust="spacingAndGlyphs" stroke="#fff" stroke-width="0.1">2</text>
<text x="132.21" y="0.00" font-family='"Liberation Serif", serif' font-style="italic" font-size="16.3" fill="#000" textLength="6.06" lengthAdjust="spacingAndGlyphs" stroke="#fff" stroke-width="0.1">s</text>
<text x="138.06" y="-4.80" font-family='"Liberation Serif", serif' font-size="11.5" fill="#000" textLength="8.36" lengthAdjust="spacingAndGlyphs" stroke="#fff" stroke-width="0.1">−</text>
<text x="146.61" y="-5.30" font-family='"Liberation Serif", serif' font-size="11.5" fill="#000" textLength="6.74" lengthAdjust="spacingAndGlyphs" stroke="#fff" stroke-width="0.1">2</text>
<path d="M8.1 2.3L14.3 -11.4M67.9 2.3L73.3 -11.4" stroke="#000" stroke-width="0.95" fill="none"/>
<path d="M50.70 -10.70L45.20 -0.50" stroke="#000" stroke-width="0.8" fill="none"/><path d="M50.40 -10.70L55.90 -0.60" stroke="#000" stroke-width="1.4" fill="none"/><path d="M44.90 -0.80H56.50" stroke="#000" stroke-width="1.6" fill="none"/>
<path d="M102.60 -11.60H100.70V3.60H102.60" stroke="#000" stroke-width="1.0" fill="none"/>
<path d="M153.80 -11.60H155.70V3.60H153.80" stroke="#000" stroke-width="1.0" fill="none"/>
</g>
<line x1="459.8" y1="142.8" x2="525.5" y2="103.2" stroke="#3a3a3a" stroke-width="0.85" stroke-dasharray="2.4 1.1 0.7 1.1"/>
<line x1="617.8" y1="67.5" x2="617.8" y2="140.5" stroke="#5a5a5a" stroke-width="1.1" stroke-dasharray="3.9 3.9"/>
<path d="M449.28 164.35L452.93 171.05L445.63 171.05Z M449.28 167.07L447.82 169.75L450.74 169.75Z" fill="#9a8a00" fill-rule="evenodd"/>
<path d="M466.18 138.45L469.83 145.15L462.53 145.15Z M466.18 141.17L464.72 143.85L467.64 143.85Z" fill="#9a8a00" fill-rule="evenodd"/>
<path d="M483.08 124.55L486.73 131.25L479.43 131.25Z M483.08 127.27L481.61 129.95L484.54 129.95Z" fill="#9a8a00" fill-rule="evenodd"/>
<path d="M499.97 114.85L503.62 121.55L496.32 121.55Z M499.97 117.57L498.51 120.25L501.44 120.25Z" fill="#9a8a00" fill-rule="evenodd"/>
<path d="M516.87 104.75L520.52 111.45L513.22 111.45Z M516.87 107.47L515.41 110.15L518.33 110.15Z" fill="#9a8a00" fill-rule="evenodd"/>
<path d="M533.77 98.45L537.42 105.15L530.12 105.15Z M533.77 101.17L532.31 103.85L535.23 103.85Z" fill="#9a8a00" fill-rule="evenodd"/>
<path d="M550.67 94.65L554.32 101.35L547.02 101.35Z M550.67 97.37L549.20 100.05L552.13 100.05Z" fill="#9a8a00" fill-rule="evenodd"/>
<path d="M567.56 92.95L571.21 99.65L563.91 99.65Z M567.56 95.67L566.10 98.35L569.02 98.35Z" fill="#9a8a00" fill-rule="evenodd"/>
<path d="M584.46 94.75L588.11 101.45L580.81 101.45Z M584.46 97.47L583.00 100.15L585.92 100.15Z" fill="#9a8a00" fill-rule="evenodd"/>
<path d="M601.36 97.75L605.01 104.45L597.71 104.45Z M601.36 100.47L599.90 103.15L602.82 103.15Z" fill="#9a8a00" fill-rule="evenodd"/>
<polygon points="618.25,96.60 621.05,102.00 615.45,102.00" fill="#9a8a00" stroke="#9a8a00" stroke-width="0.5" stroke-linejoin="round"/>
<polygon points="635.15,83.30 637.95,88.70 632.35,88.70" fill="#9a8a00" stroke="#9a8a00" stroke-width="0.5" stroke-linejoin="round"/>
<polygon points="652.05,86.00 654.85,91.40 649.25,91.40" fill="#9a8a00" stroke="#9a8a00" stroke-width="0.5" stroke-linejoin="round"/>
<polygon points="668.95,56.20 671.75,61.60 666.15,61.60" fill="#9a8a00" stroke="#9a8a00" stroke-width="0.5" stroke-linejoin="round"/>
<polygon points="685.84,50.30 688.64,55.70 683.04,55.70" fill="#9a8a00" stroke="#9a8a00" stroke-width="0.5" stroke-linejoin="round"/>
<path d="M610.10 49.30Q611.30 47.10 613.60 47.10L619.10 47.10" stroke="#111" stroke-width="0.9" fill="none" stroke-linecap="round"/>
<path d="M614.90 47.40L613.00 54.20" stroke="#111" stroke-width="1.25" fill="none" stroke-linecap="round"/>
<text x="617.35" y="57.20" font-family='"Liberation Serif", serif' font-style="italic" font-size="9.8" fill="#000" textLength="6.34" lengthAdjust="spacingAndGlyphs">Y</text>
<text x="444.84" y="26.90" font-family='"Liberation Serif", serif' font-weight="bold" font-size="12.8" fill="#000">(Q2)</text>
<text x="476.14" y="26.90" font-family='"Liberation Serif", serif' font-size="12.6" fill="#000" textLength="130.99" lengthAdjust="spacingAndGlyphs">2018/11/02 [07:00-12:00]</text>
<text x="445.29" y="42.30" font-family='"Liberation Serif", serif' font-size="12.6" fill="#000" textLength="27.89" lengthAdjust="spacingAndGlyphs">Quiet</text>
<path d="M662.10 168.15L665.75 174.85L658.45 174.85Z M662.10 170.87L660.64 173.55L663.56 173.55Z" fill="#9a8a00" fill-rule="evenodd"/>
<polygon points="662.10,183.70 664.90,189.10 659.30,189.10" fill="#9a8a00" stroke="#9a8a00" stroke-width="0.5" stroke-linejoin="round"/>
<text x="677.38" y="176.70" font-family='"Liberation Serif", serif' font-style="italic" font-size="16" fill="#000" textLength="9.93" lengthAdjust="spacingAndGlyphs" stroke="#fff" stroke-width="0.1">Y</text>
<text x="677.38" y="192.50" font-family='"Liberation Serif", serif' font-style="italic" font-size="16" fill="#000" textLength="9.93" lengthAdjust="spacingAndGlyphs" stroke="#fff" stroke-width="0.1">Y</text>
<rect x="670.90" y="186.70" width="4.4" height="1.7" fill="#000"/>
<path d="M565.95 236.10L560.40 246.50" stroke="#000" stroke-width="0.8" fill="none"/><path d="M565.65 236.10L571.20 246.40" stroke="#000" stroke-width="1.4" fill="none"/><path d="M560.10 246.20H571.80" stroke="#000" stroke-width="1.6" fill="none"/>
<text x="572.40" y="247.00" font-family='"Liberation Serif", serif' font-style="italic" font-size="16.4" fill="#000" textLength="5.03" lengthAdjust="spacingAndGlyphs">t</text>
<path d="M587.10 235.20H585.20V251.70H587.10" stroke="#000" stroke-width="1.0" fill="none"/>
<text x="588.59" y="247.00" font-family='"Liberation Serif", serif' font-style="italic" font-size="16.4" fill="#000" textLength="6.74" lengthAdjust="spacingAndGlyphs">s</text>
<path d="M596.00 235.20H597.90V251.70H596.00" stroke="#000" stroke-width="1.0" fill="none"/>
<g transform="translate(384.9,179.6) rotate(-90)">
<text x="-0.20" y="0.00" font-family='"Liberation Serif", serif' font-size="16.3" fill="#000" textLength="8.35" lengthAdjust="spacingAndGlyphs" stroke="#fff" stroke-width="0.1">3</text>
<text x="15.60" y="0.00" font-family='"Liberation Serif", serif' font-size="16.3" fill="#000" textLength="7.74" lengthAdjust="spacingAndGlyphs" stroke="#fff" stroke-width="0.1">4</text>
<text x="25.62" y="0.00" font-family='"Liberation Serif", serif' font-style="italic" font-size="16.3" fill="#000" textLength="9.55" lengthAdjust="spacingAndGlyphs" stroke="#fff" stroke-width="0.1">Y</text>
<text x="37.85" y="0.00" font-family='"Liberation Serif", serif' font-size="16.3" fill="#000" textLength="5.70" lengthAdjust="spacingAndGlyphs" stroke="#fff" stroke-width="0.1">(</text>
<text x="56.50" y="0.00" font-family='"Liberation Serif", serif' font-style="italic" font-size="16.3" fill="#000" textLength="5.03" lengthAdjust="spacingAndGlyphs" stroke="#fff" stroke-width="0.1">t</text>
<text x="62.37" y="0.00" font-family='"Liberation Serif", serif' font-size="16.3" fill="#000" textLength="5.45" lengthAdjust="spacingAndGlyphs" stroke="#fff" stroke-width="0.1">)</text>
<text x="74.52" y="0.00" font-family='"Liberation Serif", serif' font-style="italic" font-size="16.3" fill="#000" textLength="9.14" lengthAdjust="spacingAndGlyphs" stroke="#fff" stroke-width="0.1">V</text>
<text x="83.26" y="2.80" font-family='"Liberation Serif", serif' font-style="italic" font-size="11.5" fill="#000" textLength="12.43" lengthAdjust="spacingAndGlyphs" stroke="#fff" stroke-width="0.1">sw</text>
<text x="102.28" y="0.00" font-family='"Liberation Serif", serif' font-style="italic" font-size="16.3" fill="#000" textLength="9.61" lengthAdjust="spacingAndGlyphs" stroke="#fff" stroke-width="0.1">k</text>
<text x="112.11" y="0.00" font-family='"Liberation Serif", serif' font-style="italic" font-size="16.3" fill="#000" textLength="13.79" lengthAdjust="spacingAndGlyphs" stroke="#fff" stroke-width="0.1">m</text>
<text x="124.22" y="-5.40" font-family='"Liberation Serif", serif' font-size="11.5" fill="#000" textLength="6.61" lengthAdjust="spacingAndGlyphs" stroke="#fff" stroke-width="0.1">2</text>
<text x="132.21" y="0.00" font-family='"Liberation Serif", serif' font-style="italic" font-size="16.3" fill="#000" textLength="6.06" lengthAdjust="spacingAndGlyphs" stroke="#fff" stroke-width="0.1">s</text>
<text x="138.06" y="-4.80" font-family='"Liberation Serif", serif' font-size="11.5" fill="#000" textLength="8.36" lengthAdjust="spacingAndGlyphs" stroke="#fff" stroke-width="0.1">−</text>
<text x="146.61" y="-5.30" font-family='"Liberation Serif", serif' font-size="11.5" fill="#000" textLength="6.74" lengthAdjust="spacingAndGlyphs" stroke="#fff" stroke-width="0.1">2</text>
<path d="M8.1 2.3L14.3 -11.4M67.9 2.3L73.3 -11.4" stroke="#000" stroke-width="0.95" fill="none"/>
<path d="M50.70 -10.70L45.20 -0.50" stroke="#000" stroke-width="0.8" fill="none"/><path d="M50.40 -10.70L55.90 -0.60" stroke="#000" stroke-width="1.4" fill="none"/><path d="M44.90 -0.80H56.50" stroke="#000" stroke-width="1.6" fill="none"/>
<path d="M102.60 -11.60H100.70V3.60H102.60" stroke="#000" stroke-width="1.0" fill="none"/>
<path d="M153.80 -11.60H155.70V3.60H153.80" stroke="#000" stroke-width="1.0" fill="none"/>
</g>
<line x1="126.3" y1="387.8" x2="246.3" y2="315.3" stroke="#3a3a3a" stroke-width="0.85" stroke-dasharray="2.4 1.1 0.7 1.1"/>
<line x1="287" y1="289.2" x2="287" y2="362.6" stroke="#5a5a5a" stroke-width="1.1" stroke-dasharray="3.9 3.9"/>
<circle cx="83.46" cy="393.90" r="3.1" fill="#7000cc"/>
<circle cx="100.43" cy="383.50" r="3.1" fill="#7000cc"/>
<circle cx="117.39" cy="375.90" r="3.1" fill="#7000cc"/>
<circle cx="134.36" cy="382.00" r="3.1" fill="#7000cc"/>
<circle cx="151.32" cy="374.10" r="3.1" fill="#7000cc"/>
<circle cx="168.29" cy="356.10" r="3.1" fill="#7000cc"/>
<circle cx="185.26" cy="346.90" r="3.1" fill="#7000cc"/>
<circle cx="202.22" cy="347.80" r="3.1" fill="#7000cc"/>
<circle cx="219.19" cy="333.60" r="3.1" fill="#7000cc"/>
<circle cx="236.16" cy="321.20" r="3.1" fill="#7000cc"/>
<circle cx="253.12" cy="324.90" r="3.1" fill="#7000cc"/>
<circle cx="270.09" cy="323.50" r="3.1" fill="#7000cc"/>
<circle cx="287.05" cy="333.80" r="2.9" fill="none" stroke="#7000cc" stroke-width="1.2"/>
<circle cx="304.02" cy="290.00" r="2.9" fill="none" stroke="#7000cc" stroke-width="1.2"/>
<circle cx="320.99" cy="292.20" r="2.9" fill="none" stroke="#7000cc" stroke-width="1.2"/>
<path d="M279.30 374.30Q280.50 372.10 282.80 372.10L288.30 372.10" stroke="#111" stroke-width="0.9" fill="none" stroke-linecap="round"/>
<path d="M284.10 372.40L282.20 379.20" stroke="#111" stroke-width="1.25" fill="none" stroke-linecap="round"/>
<text x="286.55" y="382.20" font-family='"Liberation Serif", serif' font-style="italic" font-size="9.8" fill="#000" textLength="6.34" lengthAdjust="spacingAndGlyphs">Y</text>
<text x="79.24" y="278.60" font-family='"Liberation Serif", serif' font-weight="bold" font-size="12.8" fill="#000">(S1)</text>
<text x="107.54" y="278.60" font-family='"Liberation Serif", serif' font-size="12.6" fill="#000" textLength="156.70" lengthAdjust="spacingAndGlyphs">2018/11/01 Nov [00:00-10:00]</text>
<text x="79.34" y="294.30" font-family='"Liberation Serif", serif' font-size="12.6" fill="#000" textLength="64.72" lengthAdjust="spacingAndGlyphs">Switchbacks</text>
<circle cx="300.00" cy="422.70" r="2.9" fill="none" stroke="#7000cc" stroke-width="1.2"/>
<circle cx="300.00" cy="438.90" r="3.1" fill="#7000cc"/>
<text x="315.08" y="429.50" font-family='"Liberation Serif", serif' font-style="italic" font-size="16" fill="#000" textLength="9.93" lengthAdjust="spacingAndGlyphs" stroke="#fff" stroke-width="0.1">Y</text>
<text x="315.08" y="444.40" font-family='"Liberation Serif", serif' font-style="italic" font-size="16" fill="#000" textLength="9.93" lengthAdjust="spacingAndGlyphs" stroke="#fff" stroke-width="0.1">Y</text>
<rect x="308.60" y="438.60" width="4.4" height="1.7" fill="#000"/>
<path d="M200.85 489.10L195.30 499.50" stroke="#000" stroke-width="0.8" fill="none"/><path d="M200.55 489.10L206.10 499.40" stroke="#000" stroke-width="1.4" fill="none"/><path d="M195.00 499.20H206.70" stroke="#000" stroke-width="1.6" fill="none"/>
<text x="207.30" y="500.00" font-family='"Liberation Serif", serif' font-style="italic" font-size="16.4" fill="#000" textLength="5.03" lengthAdjust="spacingAndGlyphs">t</text>
<path d="M222.00 488.20H220.10V504.70H222.00" stroke="#000" stroke-width="1.0" fill="none"/>
<text x="223.49" y="500.00" font-family='"Liberation Serif", serif' font-style="italic" font-size="16.4" fill="#000" textLength="6.74" lengthAdjust="spacingAndGlyphs">s</text>
<path d="M230.90 488.20H232.80V504.70H230.90" stroke="#000" stroke-width="1.0" fill="none"/>
<g transform="translate(19.6,432.5) rotate(-90)">
<text x="-0.20" y="0.00" font-family='"Liberation Serif", serif' font-size="16.3" fill="#000" textLength="8.35" lengthAdjust="spacingAndGlyphs" stroke="#fff" stroke-width="0.1">3</text>
<text x="15.60" y="0.00" font-family='"Liberation Serif", serif' font-size="16.3" fill="#000" textLength="7.74" lengthAdjust="spacingAndGlyphs" stroke="#fff" stroke-width="0.1">4</text>
<text x="25.62" y="0.00" font-family='"Liberation Serif", serif' font-style="italic" font-size="16.3" fill="#000" textLength="9.55" lengthAdjust="spacingAndGlyphs" stroke="#fff" stroke-width="0.1">Y</text>
<text x="37.85" y="0.00" font-family='"Liberation Serif", serif' font-size="16.3" fill="#000" textLength="5.70" lengthAdjust="spacingAndGlyphs" stroke="#fff" stroke-width="0.1">(</text>
<text x="56.50" y="0.00" font-family='"Liberation Serif", serif' font-style="italic" font-size="16.3" fill="#000" textLength="5.03" lengthAdjust="spacingAndGlyphs" stroke="#fff" stroke-width="0.1">t</text>
<text x="62.37" y="0.00" font-family='"Liberation Serif", serif' font-size="16.3" fill="#000" textLength="5.45" lengthAdjust="spacingAndGlyphs" stroke="#fff" stroke-width="0.1">)</text>
<text x="74.52" y="0.00" font-family='"Liberation Serif", serif' font-style="italic" font-size="16.3" fill="#000" textLength="9.14" lengthAdjust="spacingAndGlyphs" stroke="#fff" stroke-width="0.1">V</text>
<text x="83.26" y="2.80" font-family='"Liberation Serif", serif' font-style="italic" font-size="11.5" fill="#000" textLength="12.43" lengthAdjust="spacingAndGlyphs" stroke="#fff" stroke-width="0.1">sw</text>
<text x="102.28" y="0.00" font-family='"Liberation Serif", serif' font-style="italic" font-size="16.3" fill="#000" textLength="9.61" lengthAdjust="spacingAndGlyphs" stroke="#fff" stroke-width="0.1">k</text>
<text x="112.11" y="0.00" font-family='"Liberation Serif", serif' font-style="italic" font-size="16.3" fill="#000" textLength="13.79" lengthAdjust="spacingAndGlyphs" stroke="#fff" stroke-width="0.1">m</text>
<text x="124.22" y="-5.40" font-family='"Liberation Serif", serif' font-size="11.5" fill="#000" textLength="6.61" lengthAdjust="spacingAndGlyphs" stroke="#fff" stroke-width="0.1">2</text>
<text x="132.21" y="0.00" font-family='"Liberation Serif", serif' font-style="italic" font-size="16.3" fill="#000" textLength="6.06" lengthAdjust="spacingAndGlyphs" stroke="#fff" stroke-width="0.1">s</text>
<text x="138.06" y="-4.80" font-family='"Liberation Serif", serif' font-size="11.5" fill="#000" textLength="8.36" lengthAdjust="spacingAndGlyphs" stroke="#fff" stroke-width="0.1">−</text>
<text x="146.61" y="-5.30" font-family='"Liberation Serif", serif' font-size="11.5" fill="#000" textLength="6.74" lengthAdjust="spacingAndGlyphs" stroke="#fff" stroke-width="0.1">2</text>
<path d="M8.1 2.3L14.3 -11.4M67.9 2.3L73.3 -11.4" stroke="#000" stroke-width="0.95" fill="none"/>
<path d="M50.70 -10.70L45.20 -0.50" stroke="#000" stroke-width="0.8" fill="none"/><path d="M50.40 -10.70L55.90 -0.60" stroke="#000" stroke-width="1.4" fill="none"/><path d="M44.90 -0.80H56.50" stroke="#000" stroke-width="1.6" fill="none"/>
<path d="M102.60 -11.60H100.70V3.60H102.60" stroke="#000" stroke-width="1.0" fill="none"/>
<path d="M153.80 -11.60H155.70V3.60H153.80" stroke="#000" stroke-width="1.0" fill="none"/>
</g>
<line x1="449" y1="394.6" x2="532.2" y2="347.1" stroke="#3a3a3a" stroke-width="0.85" stroke-dasharray="2.4 1.1 0.7 1.1"/>
<line x1="575.5" y1="338.9" x2="668.2" y2="286.2" stroke="#3a3a3a" stroke-width="0.85" stroke-dasharray="2.4 1.1 0.7 1.1"/>
<line x1="577.4" y1="298" x2="577.4" y2="371.7" stroke="#5a5a5a" stroke-width="1.1" stroke-dasharray="3.9 3.9"/>
<circle cx="442.49" cy="402.70" r="2.9" fill="none" stroke="#7000cc" stroke-width="1.2"/>
<circle cx="459.40" cy="389.20" r="2.9" fill="none" stroke="#7000cc" stroke-width="1.2"/>
<circle cx="476.31" cy="376.10" r="2.9" fill="none" stroke="#7000cc" stroke-width="1.2"/>
<circle cx="493.22" cy="364.20" r="2.9" fill="none" stroke="#7000cc" stroke-width="1.2"/>
<circle cx="510.13" cy="355.90" r="2.9" fill="none" stroke="#7000cc" stroke-width="1.2"/>
<circle cx="527.04" cy="350.40" r="2.9" fill="none" stroke="#7000cc" stroke-width="1.2"/>
<circle cx="543.95" cy="344.70" r="2.9" fill="none" stroke="#7000cc" stroke-width="1.2"/>
<circle cx="560.86" cy="355.20" r="2.9" fill="none" stroke="#7000cc" stroke-width="1.2"/>
<circle cx="577.76" cy="328.50" r="3.1" fill="#7000cc"/>
<circle cx="594.67" cy="317.10" r="3.1" fill="#7000cc"/>
<circle cx="611.58" cy="311.10" r="3.1" fill="#7000cc"/>
<circle cx="628.49" cy="306.80" r="3.1" fill="#7000cc"/>
<circle cx="645.40" cy="297.60" r="3.1" fill="#7000cc"/>
<circle cx="662.31" cy="290.20" r="3.1" fill="#7000cc"/>
<circle cx="679.22" cy="285.20" r="3.1" fill="#7000cc"/>
<circle cx="696.13" cy="271.90" r="3.1" fill="#7000cc"/>
<path d="M570.30 381.90Q571.50 379.70 573.80 379.70L579.30 379.70" stroke="#111" stroke-width="0.9" fill="none" stroke-linecap="round"/>
<path d="M575.10 380.00L573.20 386.80" stroke="#111" stroke-width="1.25" fill="none" stroke-linecap="round"/>
<text x="577.55" y="389.80" font-family='"Liberation Serif", serif' font-style="italic" font-size="9.8" fill="#000" textLength="6.34" lengthAdjust="spacingAndGlyphs">Y</text>
<text x="438.40" y="276.60" font-family='"Liberation Serif", serif' font-weight="bold" font-size="11.4" fill="#000">(S2)</text>
<text x="464.00" y="276.60" font-family='"Liberation Serif", serif' font-size="11.5" fill="#000" textLength="116.71" lengthAdjust="spacingAndGlyphs">2018/11/01 Nov [16:30] -</text>
<text x="438.80" y="290.70" font-family='"Liberation Serif", serif' font-size="11.5" fill="#000" textLength="111.66" lengthAdjust="spacingAndGlyphs">2018/11/02 Nov [04:30]</text>
<text x="438.52" y="304.80" font-family='"Liberation Serif", serif' font-size="11.5" fill="#000" textLength="58.59" lengthAdjust="spacingAndGlyphs">Switchbacks</text>
<circle cx="658.60" cy="423.60" r="2.9" fill="none" stroke="#7000cc" stroke-width="1.2"/>
<circle cx="658.60" cy="439.80" r="3.1" fill="#7000cc"/>
<text x="673.68" y="430.40" font-family='"Liberation Serif", serif' font-style="italic" font-size="16" fill="#000" textLength="9.93" lengthAdjust="spacingAndGlyphs" stroke="#fff" stroke-width="0.1">Y</text>
<text x="673.68" y="445.30" font-family='"Liberation Serif", serif' font-style="italic" font-size="16" fill="#000" textLength="9.93" lengthAdjust="spacingAndGlyphs" stroke="#fff" stroke-width="0.1">Y</text>
<rect x="667.20" y="439.50" width="4.4" height="1.7" fill="#000"/>
<path d="M559.25 490.00L553.70 500.40" stroke="#000" stroke-width="0.8" fill="none"/><path d="M558.95 490.00L564.50 500.30" stroke="#000" stroke-width="1.4" fill="none"/><path d="M553.40 500.10H565.10" stroke="#000" stroke-width="1.6" fill="none"/>
<text x="565.70" y="500.90" font-family='"Liberation Serif", serif' font-style="italic" font-size="16.4" fill="#000" textLength="5.03" lengthAdjust="spacingAndGlyphs">t</text>
<path d="M580.40 489.10H578.50V505.60H580.40" stroke="#000" stroke-width="1.0" fill="none"/>
<text x="581.89" y="500.90" font-family='"Liberation Serif", serif' font-style="italic" font-size="16.4" fill="#000" textLength="6.74" lengthAdjust="spacingAndGlyphs">s</text>
<path d="M589.30 489.10H591.20V505.60H589.30" stroke="#000" stroke-width="1.0" fill="none"/>
<g transform="translate(378.1,432.8) rotate(-90)">
<text x="-0.20" y="0.00" font-family='"Liberation Serif", serif' font-size="16.3" fill="#000" textLength="8.35" lengthAdjust="spacingAndGlyphs" stroke="#fff" stroke-width="0.1">3</text>
<text x="15.60" y="0.00" font-family='"Liberation Serif", serif' font-size="16.3" fill="#000" textLength="7.74" lengthAdjust="spacingAndGlyphs" stroke="#fff" stroke-width="0.1">4</text>
<text x="25.62" y="0.00" font-family='"Liberation Serif", serif' font-style="italic" font-size="16.3" fill="#000" textLength="9.55" lengthAdjust="spacingAndGlyphs" stroke="#fff" stroke-width="0.1">Y</text>
<text x="37.85" y="0.00" font-family='"Liberation Serif", serif' font-size="16.3" fill="#000" textLength="5.70" lengthAdjust="spacingAndGlyphs" stroke="#fff" stroke-width="0.1">(</text>
<text x="56.50" y="0.00" font-family='"Liberation Serif", serif' font-style="italic" font-size="16.3" fill="#000" textLength="5.03" lengthAdjust="spacingAndGlyphs" stroke="#fff" stroke-width="0.1">t</text>
<text x="62.37" y="0.00" font-family='"Liberation Serif", serif' font-size="16.3" fill="#000" textLength="5.45" lengthAdjust="spacingAndGlyphs" stroke="#fff" stroke-width="0.1">)</text>
<text x="74.52" y="0.00" font-family='"Liberation Serif", serif' font-style="italic" font-size="16.3" fill="#000" textLength="9.14" lengthAdjust="spacingAndGlyphs" stroke="#fff" stroke-width="0.1">V</text>
<text x="83.26" y="2.80" font-family='"Liberation Serif", serif' font-style="italic" font-size="11.5" fill="#000" textLength="12.43" lengthAdjust="spacingAndGlyphs" stroke="#fff" stroke-width="0.1">sw</text>
<text x="102.28" y="0.00" font-family='"Liberation Serif", serif' font-style="italic" font-size="16.3" fill="#000" textLength="9.61" lengthAdjust="spacingAndGlyphs" stroke="#fff" stroke-width="0.1">k</text>
<text x="112.11" y="0.00" font-family='"Liberation Serif", serif' font-style="italic" font-size="16.3" fill="#000" textLength="13.79" lengthAdjust="spacingAndGlyphs" stroke="#fff" stroke-width="0.1">m</text>
<text x="124.22" y="-5.40" font-family='"Liberation Serif", serif' font-size="11.5" fill="#000" textLength="6.61" lengthAdjust="spacingAndGlyphs" stroke="#fff" stroke-width="0.1">2</text>
<text x="132.21" y="0.00" font-family='"Liberation Serif", serif' font-style="italic" font-size="16.3" fill="#000" textLength="6.06" lengthAdjust="spacingAndGlyphs" stroke="#fff" stroke-width="0.1">s</text>
<text x="138.06" y="-4.80" font-family='"Liberation Serif", serif' font-size="11.5" fill="#000" textLength="8.36" lengthAdjust="spacingAndGlyphs" stroke="#fff" stroke-width="0.1">−</text>
<text x="146.61" y="-5.30" font-family='"Liberation Serif", serif' font-size="11.5" fill="#000" textLength="6.74" lengthAdjust="spacingAndGlyphs" stroke="#fff" stroke-width="0.1">2</text>
<path d="M8.1 2.3L14.3 -11.4M67.9 2.3L73.3 -11.4" stroke="#000" stroke-width="0.95" fill="none"/>
<path d="M50.70 -10.70L45.20 -0.50" stroke="#000" stroke-width="0.8" fill="none"/><path d="M50.40 -10.70L55.90 -0.60" stroke="#000" stroke-width="1.4" fill="none"/><path d="M44.90 -0.80H56.50" stroke="#000" stroke-width="1.6" fill="none"/>
<path d="M102.60 -11.60H100.70V3.60H102.60" stroke="#000" stroke-width="1.0" fill="none"/>
<path d="M153.80 -11.60H155.70V3.60H153.80" stroke="#000" stroke-width="1.0" fill="none"/>
</g>
</svg></body></html>
